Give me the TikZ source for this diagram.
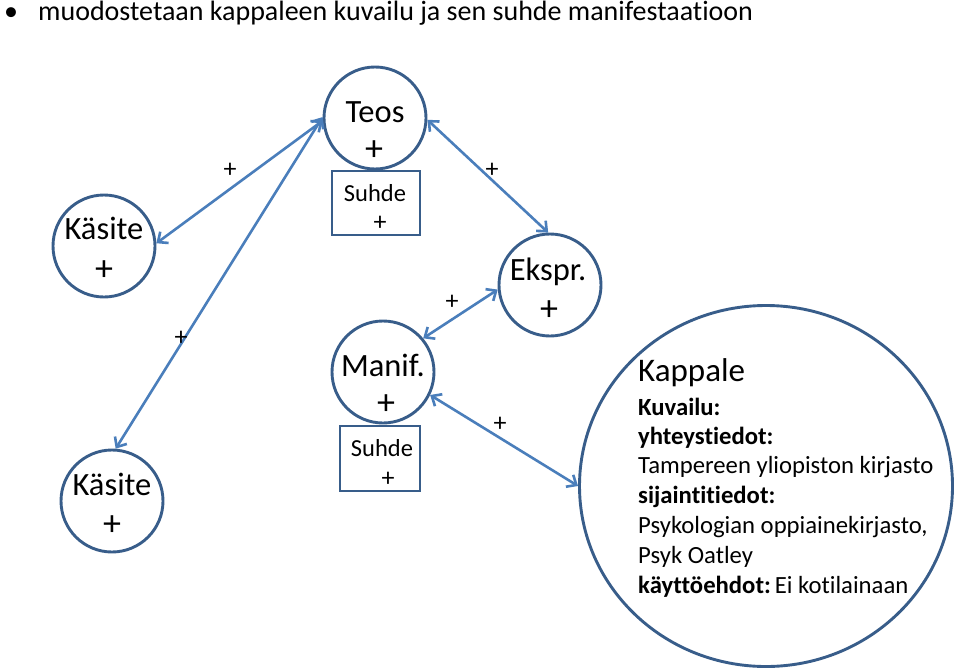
\documentclass[tikz,border=0pt]{standalone}
\usepackage{fontspec}
\setmainfont{Carlito}[Ligatures=NoCommon]
\usetikzlibrary{arrows.meta,shapes.geometric}
\definecolor{ringblue}{HTML}{385D8A}
\definecolor{arrowblue}{HTML}{4A7EBB}
\newcommand{\fsz}[1]{\fontsize{#1}{#1}\selectfont}
\begin{document}
\begin{tikzpicture}[x=1pt,y=-1pt,
  ring/.style={circle,draw=ringblue,line width=2.9pt,minimum size=102pt,inner sep=0pt},
  suhdebox/.style={draw=ringblue,line width=2.6pt,inner sep=0pt},
  namelbl/.style={anchor=base,font=\fsz{32.5},inner sep=0pt},
  pluslbl/.style={font=\fsz{36},inner sep=0pt},
  edgeplus/.style={font=\fsz{26},inner sep=0pt},
  boxtxt/.style={font=\fsz{24.5},inner sep=0pt},
  link/.style={draw=arrowblue,line width=2.6pt,{Straight Barb[length=8pt,width=14pt]}-{Straight Barb[length=8pt,width=14pt]}},
  kaptxt/.style={anchor=base west,font=\fsz{24.7},inner sep=0pt}]
\useasboundingbox (0,0) rectangle (960,669);
% title
\node[font=\fsz{28},inner sep=0pt,anchor=base] (bullet) at (11,21) {•};
\node[font=\fsz{28},inner sep=0pt,anchor=base west] (title) at (38,21) {muodostetaan kappaleen kuvailu ja sen suhde manifestaatioon};
% circles
\node[ring] (teos) at (375,118) {};
\node[ring] (k1) at (104,246) {};
\node[ring] (k2) at (112,501) {};
\node[ring] (manif) at (383,372) {};
\node[ring] (ekspr) at (550,285) {};
\node[ellipse,draw=ringblue,line width=2.9pt,minimum width=373pt,minimum height=361pt,inner sep=0pt] (kap) at (766,486) {};
% circle texts
\node[namelbl] (teosT) at (375,122) {Teos};
\node[pluslbl] (teosP) at (374,151) {+};
\node[namelbl] (k1T) at (104,239) {Käsite};
\node[pluslbl] (k1P) at (104,271) {+};
\node[namelbl] (k2T) at (112,495) {Käsite};
\node[pluslbl] (k2P) at (112,526) {+};
\node[namelbl] (manifT) at (383,376) {Manif.};
\node[pluslbl] (manifP) at (386,405) {+};
\node[namelbl] (eksprT) at (548,280) {Ekspr.};
\node[pluslbl] (eksprP) at (549,311) {+};
% Suhde boxes
\draw[suhdebox] (332,171) rectangle (420,235);
\node[boxtxt] (s1T) at (375,193) {Suhde};
\node[edgeplus] (s1P) at (380,223) {+};
\draw[suhdebox] (340,426) rectangle (420,491);
\node[boxtxt] (s2T) at (382,448) {Suhde};
\node[edgeplus] (s2P) at (388,479) {+};
% connectors
\draw[link] (k1.3) -- (teos.183);
\draw[link] (k2.86) -- (teos.179);
\draw[link] (teos.358) -- (ekspr.92);
\draw[link] (manif.40) -- (ekspr.185);
\draw[link] (manif.334) -- (kap.west);
% edge labels
\node[edgeplus] (e1) at (230,170) {+};
\node[edgeplus] (e2) at (181,338) {+};
\node[edgeplus] (e3) at (492,170) {+};
\node[edgeplus] (e4) at (452,302) {+};
\node[edgeplus] (e5) at (500,424) {+};
% Kappale text
\node[kaptxt,font=\fsz{33}] (kt1) at (638,381) {Kappale};
\node[kaptxt] (kt2) at (638,415) {\textbf{Kuvailu:}};
\node[kaptxt] (kt3) at (638,444) {\textbf{yhteystiedot:}};
\node[kaptxt] (kt4) at (638,473) {Tampereen yliopiston kirjasto};
\node[kaptxt] (kt5) at (638,503) {\textbf{sijaintitiedot:}};
\node[kaptxt] (kt6) at (638,533) {Psykologian oppiainekirjasto,};
\node[kaptxt] (kt7) at (638,563) {Psyk Oatley};
\node[kaptxt] (kt8) at (638,593) {\textbf{käyttöehdot:}\,Ei kotilainaan};
\end{tikzpicture}
\end{document}
